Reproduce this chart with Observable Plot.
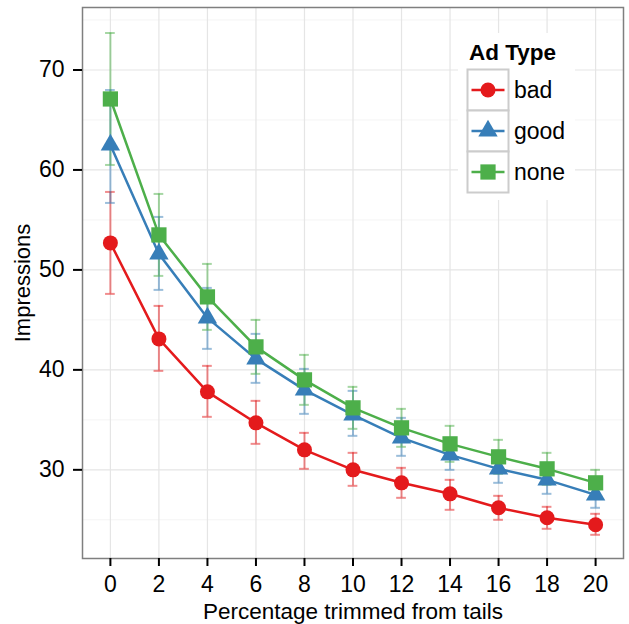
<!DOCTYPE html>
<html>
<head>
<meta charset="utf-8">
<script src="https://cdn.jsdelivr.net/npm/d3@7"></script>
<script src="https://cdn.jsdelivr.net/npm/@observablehq/plot@0.6"></script>
<style>
  html, body { margin: 0; padding: 0; background: #fff; }
  svg { font-family: "Liberation Sans", Arial, Helvetica, sans-serif; }
</style>
</head>
<body>
<div id="chart"></div>
<script>
// ---- data ----
const trim = [0, 2, 4, 6, 8, 10, 12, 14, 16, 18, 20];
const adTypes = ["bad", "good", "none"];
const colors = ["#E41A1C", "#377EB8", "#4DAF4A"];
const symbols = ["circle", "triangle", "square"];

const badMean = [52.7, 43.1, 37.8, 34.7, 32.0, 30.0, 28.7, 27.6, 26.2, 25.2, 24.5];
const badLo   = [47.6, 39.9, 35.3, 32.6, 30.1, 28.4, 27.2, 26.0, 25.0, 24.1, 23.5];
const badHi   = [57.8, 46.4, 40.4, 36.9, 33.7, 31.7, 30.2, 29.0, 27.4, 26.3, 25.6];

const goodMean = [62.5, 51.6, 45.2, 41.1, 38.0, 35.5, 33.2, 31.5, 30.1, 29.0, 27.5];
const goodLo   = [56.7, 48.0, 42.1, 38.7, 35.6, 33.4, 31.4, 30.0, 28.7, 27.6, 26.2];
const goodHi   = [68.0, 55.3, 48.2, 43.6, 40.1, 37.9, 35.2, 33.2, 31.8, 30.2, 28.9];

const noneMean = [67.1, 53.5, 47.3, 42.3, 39.0, 36.2, 34.2, 32.6, 31.3, 30.1, 28.7];
const noneLo   = [60.5, 49.4, 44.0, 39.6, 36.5, 34.1, 32.3, 30.8, 29.6, 28.5, 27.4];
const noneHi   = [73.7, 57.6, 50.6, 45.0, 41.5, 38.3, 36.1, 34.4, 33.0, 31.7, 30.0];

const yTicks = [30, 40, 50, 60, 70];
const yMinor = [25, 35, 45, 55, 65, 75];

const means = [badMean, goodMean, noneMean];
const los = [badLo, goodLo, noneLo];
const his = [badHi, goodHi, noneHi];

const rows = adTypes.map((type, s) => trim.map((x, i) => ({
  type, s, x, y: means[s][i], lo: los[s][i], hi: his[s][i]
})));

const FONT = 23;
const capHalf = 0.2; // errorbar cap half-width in data units
const dotR = [7.5, 7.2, 8.6];

const marks = [
  Plot.ruleY(yMinor, {stroke: "#f4f4f4", strokeWidth: 1}),
  Plot.ruleY(yTicks, {stroke: "#e5e5e5", strokeWidth: 1.2}),
  Plot.ruleX(trim, {stroke: "#e5e5e5", strokeWidth: 1.2}),
];
rows.forEach((data, s) => {
  marks.push(
    Plot.ruleX(data, {x: "x", y1: "lo", y2: "hi", stroke: colors[s], strokeOpacity: 0.5, strokeWidth: 2}),
    Plot.ruleY(data, {y: "lo", x1: d => d.x - capHalf, x2: d => d.x + capHalf, stroke: colors[s], strokeOpacity: 0.5, strokeWidth: 2}),
    Plot.ruleY(data, {y: "hi", x1: d => d.x - capHalf, x2: d => d.x + capHalf, stroke: colors[s], strokeOpacity: 0.5, strokeWidth: 2})
  );
});
rows.forEach((data, s) => {
  marks.push(Plot.line(data, {x: "x", y: "y", stroke: colors[s], strokeWidth: 2.5}));
});
rows.forEach((data, s) => {
  marks.push(Plot.dot(data, {x: "x", y: "y", fill: colors[s], symbol: symbols[s], r: dotR[s], stroke: "none"}));
});
marks.push(
  Plot.frame({stroke: "#7f7f7f", strokeWidth: 1.5}),
  Plot.axisX(trim, {tickSize: 8, tickPadding: 9, fontSize: FONT, stroke: "#000", strokeWidth: 2, fill: "#000", label: null, tickFormat: d => String(d)}),
  Plot.axisY(yTicks, {tickSize: 9, tickPadding: 9, fontSize: FONT, stroke: "#000", strokeWidth: 2, fill: "#000", label: null}),
  Plot.text(["Percentage trimmed from tails"], {frameAnchor: "bottom", dy: 53, text: d => d, fontSize: 22.5, fill: "#000", textAnchor: "middle", lineAnchor: "middle"}),
  Plot.text(["Impressions"], {frameAnchor: "left", dx: -60, rotate: -90, text: d => d, fontSize: 22, fill: "#000", textAnchor: "middle", lineAnchor: "middle"})
);

const chart = Plot.plot({
  width: 629,
  height: 624,
  marginLeft: 82,
  marginRight: 6,
  marginTop: 7,
  marginBottom: 66,
  x: {domain: [-1.15, 21.15]},
  y: {domain: [21.13, 76.25]},
  style: {background: "#fff", fontFamily: "'Liberation Sans', Arial, Helvetica, sans-serif"},
  marks
});
document.getElementById("chart").appendChild(chart);

// ---- legend (inside panel, top right) ----
const svg = d3.select(chart);
const g = svg.append("g").attr("text-anchor", "start");
g.append("rect").attr("x", 458).attr("y", 33).attr("width", 117).attr("height", 167).attr("fill", "#fff");
g.append("text").attr("x", 469).attr("y", 60).attr("font-size", 22.5).attr("font-weight", "bold")
  .attr("fill", "#000").text("Ad Type");
const keyX = 467.5, keyY = 69.5, keyW = 41, keyH = 41;
adTypes.forEach((t, i) => {
  const cy = keyY + keyH * i + keyH / 2;
  const cx = keyX + keyW / 2;
  g.append("rect").attr("x", keyX).attr("y", keyY + keyH * i).attr("width", keyW).attr("height", keyH)
    .attr("fill", "#fff").attr("stroke", "#cccccc").attr("stroke-width", 2);
  g.append("line").attr("x1", keyX + 4).attr("x2", keyX + keyW - 4).attr("y1", cy).attr("y2", cy)
    .attr("stroke", colors[i]).attr("stroke-width", 2.5);
  const sym = [d3.symbolCircle, d3.symbolTriangle, d3.symbolSquare][i];
  g.append("path").attr("d", d3.symbol(sym, Math.PI * dotR[i] * dotR[i])())
    .attr("transform", `translate(${cx},${cy})`).attr("fill", colors[i]);
  g.append("text").attr("x", keyX + keyW + 5.5).attr("y", cy).attr("dy", "0.35em")
    .attr("font-size", 23).attr("fill", "#000").text(t);
});
</script>
</body>
</html>
